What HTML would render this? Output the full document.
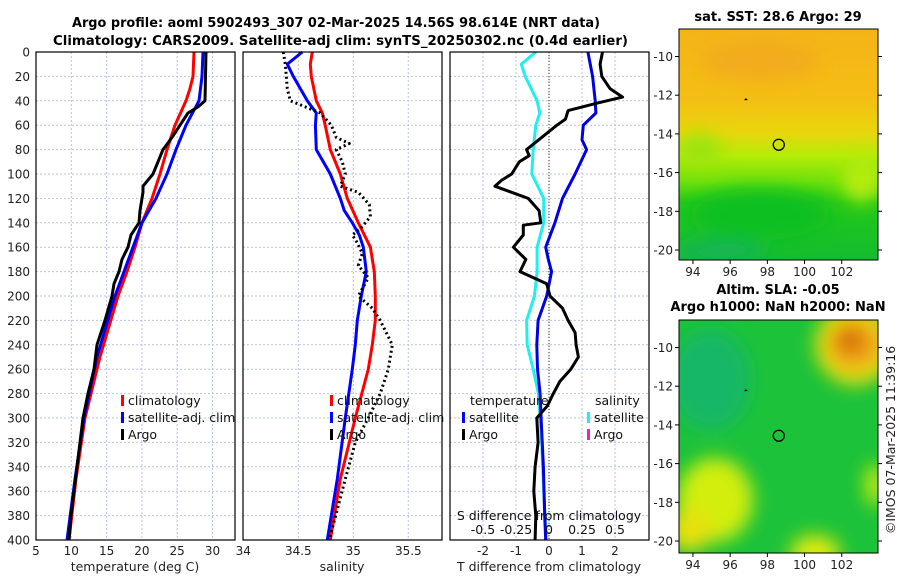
<!DOCTYPE html>
<html><head><meta charset="utf-8">
<style>
html,body{margin:0;padding:0;background:#fff;}
svg{display:block;font-family:"DejaVu Sans","Liberation Sans",sans-serif;}
.tk{font-size:12px;fill:#222;}
.ttl{font-size:13px;font-weight:bold;fill:#000;}
.lg{font-size:12.5px;fill:#111;}
</style></head><body>
<svg id="fig" width="900" height="580" viewBox="0 0 900 580" xmlns="http://www.w3.org/2000/svg">
<defs>
<filter id="blur6" x="-50%" y="-50%" width="200%" height="200%"><feGaussianBlur stdDeviation="9"/></filter>
<clipPath id="clipSST"><rect x="679" y="29" width="199" height="231"/></clipPath>
<clipPath id="clipSLA"><rect x="679" y="320" width="199" height="233"/></clipPath>
<linearGradient id="sstGrad" x1="0" y1="0" x2="0" y2="1">
<stop offset="0" stop-color="#f4b418"/><stop offset="0.3" stop-color="#f4be14"/>
<stop offset="0.45" stop-color="#e8d60c"/><stop offset="0.55" stop-color="#b4ec08"/>
<stop offset="0.66" stop-color="#6ee00c"/><stop offset="0.75" stop-color="#22c818"/>
<stop offset="1" stop-color="#14bc30"/></linearGradient>
</defs>
<text class="ttl" x="72" y="27" textLength="528" lengthAdjust="spacingAndGlyphs">Argo profile: aoml 5902493_307 02-Mar-2025 14.56S 98.614E (NRT data)</text>
<text class="ttl" x="53" y="45" textLength="575" lengthAdjust="spacingAndGlyphs">Climatology: CARS2009. Satellite-adj clim: synTS_20250302.nc (0.4d earlier)</text>
<g id="plots"></g>
<g id="maps"></g>
</svg>
<script>
// ---- depth axis ----
const depthTicks=[0,20,40,60,80,100,120,140,160,180,200,220,240,260,280,300,320,340,360,380,400];
// ---- temperature panel data (deg C) ----
const tClimDepth=[0,20,30,40,60,80,100,120,140,160,180,200,250,300,350,400];
const tClim=[27.38,27.24,26.81,26.25,24.69,23.56,22.56,21.43,20.01,19.02,17.89,16.61,14.07,11.94,10.67,9.67];
const tSatDepth=[0,20,40,60,80,100,120,140,160,180,200,250,300,350,400];
const tSat=[28.65,28.51,28.09,26.25,24.83,23.56,22.0,20.01,18.74,17.46,16.19,13.64,11.8,10.52,9.39];
const tArgoDepth=[0,40,45,50,60,70,80,90,100,110,115,130,140,150,160,170,180,190,200,220,240,260,280,300,320,340,360,380,400];
const tArgo=[29.08,28.94,27.95,26.53,25.4,24.26,22.99,22.28,21.57,20.16,20.16,19.73,19.59,18.46,18.03,17.18,16.76,16.05,15.76,14.77,13.64,13.22,12.37,11.66,11.23,10.81,10.38,9.96,9.67];
const tTicks=[5,10,15,20,25,30];
// ---- salinity panel data ----
const sClimDepth=[0,10,20,40,50,60,80,100,120,140,160,180,200,220,240,260,300,350,400];
const sClim=[34.627,34.609,34.618,34.664,34.718,34.745,34.791,34.882,34.945,35.045,35.155,35.191,35.2,35.2,35.173,35.136,35.018,34.882,34.791];
const sSatDepth=[0,10,20,40,50,60,80,100,120,130,140,150,160,180,200,220,240,260,300,350,400];
const sSat=[34.536,34.4,34.455,34.582,34.664,34.655,34.664,34.791,34.882,34.918,34.991,35.055,35.091,35.118,35.073,35.036,35.018,34.991,34.927,34.855,34.764];
const sArgoDepth=[0,10,30,40,45,50,60,70,75,80,90,100,110,115,125,135,145,150,155,165,175,185,200,210,220,240,260,280,300,320,350,400];
const sArgo=[34.364,34.382,34.4,34.427,34.564,34.7,34.8,34.845,34.964,34.845,34.9,34.927,34.882,35.045,35.145,35.155,35.064,34.991,35.027,35.082,35.045,35.136,35.045,35.173,35.245,35.355,35.318,35.245,35.136,35.018,34.927,34.782];
const sTicks=[34,34.5,35,35.5];
// ---- difference panel data ----
const dTSatDepth=[0,20,40,50,60,72,80,100,120,140,160,170,180,200,220,240,260,280,300,340,380,400];
const dTSat=[1.18,1.32,1.4,1.42,1.04,1.0,1.14,0.79,0.41,0.18,-0.1,-0.02,0.08,-0.07,-0.33,-0.37,-0.35,-0.27,-0.24,-0.17,-0.13,-0.1];
const dSSatDepth=[0,10,20,40,50,60,80,100,120,140,160,180,200,220,240,260,280,320,360,400];
const dSSat=[-0.1,-0.21,-0.18,-0.09,-0.07,-0.1,-0.12,-0.13,-0.04,-0.04,-0.09,-0.09,-0.11,-0.17,-0.165,-0.12,-0.08,-0.055,-0.04,-0.02];
const dTArgoDepth=[0,10,20,30,37,42,48,55,60,70,80,85,90,100,105,110,120,130,140,142,150,160,170,180,190,200,210,220,230,240,250,260,270,280,290,300,320,340,360,380,400];
const dTArgo=[1.62,1.55,1.6,1.85,2.23,1.45,0.58,0.5,0.24,-0.22,-0.68,-0.6,-0.9,-1.13,-1.43,-1.64,-0.63,-0.3,-0.25,-0.78,-0.78,-1.08,-0.7,-0.88,-0.07,0.03,0.41,0.58,0.79,0.82,0.89,0.66,0.33,0.13,-0.05,-0.37,-0.33,-0.42,-0.46,-0.4,-0.42];
const dTTicks=[-2,-1,0,1,2];
const dSTicks=[-0.5,-0.25,0,0.25,0.5];

const NS='http://www.w3.org/2000/svg';
const plots=document.getElementById('plots');
function mk(tag,attrs,parent){const e=document.createElementNS(NS,tag);for(const k in attrs)e.setAttribute(k,attrs[k]);(parent||plots).appendChild(e);return e;}
const Y0=52,Y1=540;
const yScale=d=>Y0+(d/400)*(Y1-Y0);
const tX=v=>36+(v-5)*7.06;
const sX=v=>243.3+(v-34)*110;
const dX=v=>549+v*33;
const dSX=v=>549+v*132;

const panels=[
 {name:'temperature-panel',x0:36,x1:235,ticks:tTicks,fx:tX,label:'temperature (deg C)',lx:135},
 {name:'salinity-panel',x0:243,x1:442,ticks:sTicks,fx:sX,label:'salinity',lx:342},
 {name:'difference-panel',x0:450,x1:649,ticks:dTTicks,fx:dX,label:'T difference from climatology',lx:549}
];
panels.forEach(p=>{
  const g=mk('g',{});
  
  
  depthTicks.forEach(d=>{const l=mk('line',{x1:p.x0,x2:p.x1,y1:yScale(d),y2:yScale(d),stroke:'#b9c3e3','stroke-width':1,'stroke-dasharray':'2,2'},g);
    });
  p.ticks.forEach(t=>{const x=p.fx(t);if(x>p.x0+1&&x<p.x1-1){const l=mk('line',{x1:x,x2:x,y1:Y0,y2:Y1,stroke:'#b9c3e3','stroke-width':1,'stroke-dasharray':'2,2'},g);
    }
    const tl=mk('text',{x:x,y:Y1+15,'text-anchor':'middle',class:'tk'},g);tl.textContent=String(t);
    });
  const ax=mk('text',{x:p.lx,y:571,'text-anchor':'middle',class:'tk',style:'font-size:12.5px'},g);ax.textContent=p.label;
  
});
depthTicks.forEach(d=>{const t=mk('text',{x:30,y:yScale(d)+4.5,'text-anchor':'end',class:'tk'});t.textContent=d;
  });
function line(depths,vals,fx,color,name,dash,w){
  const pts=depths.map((d,i)=>fx(vals[i]).toFixed(1)+','+yScale(d).toFixed(1)).join(' ');
  const a={points:pts,fill:'none',stroke:color,'stroke-width':w||3,'stroke-linejoin':'round'};
  if(dash)a['stroke-dasharray']=dash;
  const e=mk('polyline',a);
  
  
  return e;}
const z=mk('line',{x1:dX(0),x2:dX(0),y1:Y0,y2:Y1,stroke:'#333','stroke-width':1,'stroke-dasharray':'1,2'});


line(tClimDepth,tClim,tX,'#f00','temperature-climatology-line');
line(tSatDepth,tSat,tX,'#00f','temperature-satellite-line');
line(tArgoDepth,tArgo,tX,'#000','temperature-argo-line');
line(sClimDepth,sClim,sX,'#f00','salinity-climatology-line');
line(sSatDepth,sSat,sX,'#00f','salinity-satellite-line');
line(sArgoDepth,sArgo,sX,'#000','salinity-argo-line','2,3');
line(dSSatDepth,dSSat,dSX,'#22eeee','salinity-diff-satellite-line');
line(dTSatDepth,dTSat,dX,'#0000e0','temperature-diff-satellite-line');
line(dTArgoDepth,dTArgo,dX,'#000','temperature-diff-argo-line');
panels.forEach(p=>{const r=mk('rect',{x:p.x0,y:Y0,width:p.x1-p.x0,height:Y1-Y0,fill:'none',stroke:'#000','stroke-width':1.2});
  });
const st=mk('text',{x:549,y:520,'text-anchor':'middle',class:'lg'});st.textContent='S difference from climatology';

dSTicks.forEach(v=>{const t=mk('text',{x:dSX(v),y:534,'text-anchor':'middle',class:'lg'});t.textContent=String(v);
  });
function legend(x,y,color,text,name){
  const g=mk('g',{});
  
  
  mk('rect',{x:x,y:y-10,width:3,height:11,fill:color},g);
  const t=mk('text',{x:x+7,y:y,class:'lg'},g);t.textContent=text;}
legend(121,405,'#f00','climatology','legend-climatology');
legend(121,422,'#00f','satellite-adj. clim','legend-satellite');
legend(121,439,'#000','Argo','legend-argo');
legend(330,405,'#f00','climatology','legend-climatology-2');
legend(330,422,'#00f','satellite-adj. clim','legend-satellite-2');
legend(330,439,'#000','Argo','legend-argo-2');
const lt=mk('text',{x:470,y:405,class:'lg'});lt.textContent='temperature';
const ls=mk('text',{x:595,y:405,class:'lg'});ls.textContent='salinity';
legend(462,422,'#00f','satellite','legend-temp-satellite');
legend(462,439,'#000','Argo','legend-temp-argo');
legend(587,422,'#22eeee','satellite','legend-sal-satellite');
legend(587,439,'#ee22cc','Argo','legend-sal-argo');

// ---- maps ----
const maps=document.getElementById('maps');
const lonTicks=[94,96,98,100,102];
const latTicks=[-10,-12,-14,-16,-18,-20];
function mapFrame(top,name){
  const g=mk('g',{},maps);
  
  
  const lonX=v=>679+(v-93.25)*18.6;
  const latY=v=>top+27.5+(-10-v)*19.35;
  return {g,lonX,latY};
}
const m1=mapFrame(29,'sst-map');
const c1=mk('g',{'clip-path':'url(#clipSST)'},m1.g);
mk('rect',{x:679,y:29,width:199,height:231,fill:'url(#sstGrad)'},c1);
const b1=mk('g',{filter:'url(#blur6)'},c1);
mk('ellipse',{cx:700,cy:150,rx:22,ry:16,fill:'#9ae40c'},b1);
mk('ellipse',{cx:862,cy:180,rx:20,ry:22,fill:'#b6ec08'},b1);
mk('ellipse',{cx:760,cy:215,rx:70,ry:25,fill:'#10c020'},b1);
mk('ellipse',{cx:720,cy:252,rx:45,ry:12,fill:'#12b456'},b1);
mk('ellipse',{cx:760,cy:60,rx:60,ry:20,fill:'#f2ac1a'},b1);
const m2=mapFrame(320,'sla-map');
const c2=mk('g',{'clip-path':'url(#clipSLA)'},m2.g);
mk('rect',{x:679,y:320,width:199,height:233,fill:'#1cc23a'},c2);
const b2=mk('g',{filter:'url(#blur6)'},c2);
mk('ellipse',{cx:710,cy:380,rx:40,ry:50,fill:'#16b868'},b2);
mk('ellipse',{cx:855,cy:345,rx:40,ry:40,fill:'#e8e010'},b2);
mk('ellipse',{cx:855,cy:345,rx:28,ry:26,fill:'#f0a818'},b2);
mk('ellipse',{cx:850,cy:340,rx:15,ry:14,fill:'#d87010'},b2);
mk('ellipse',{cx:715,cy:500,rx:38,ry:42,fill:'#d2ee10'},b2);
mk('ellipse',{cx:690,cy:530,rx:22,ry:22,fill:'#e8e010'},b2);
mk('ellipse',{cx:815,cy:553,rx:25,ry:18,fill:'#e0ea10'},b2);
mk('ellipse',{cx:875,cy:485,rx:10,ry:22,fill:'#c6ec0e'},b2);
[[m1,29,260,'sat. SST: 28.6 Argo: 29',null],[m2,320,553,'Altim. SLA: -0.05','Argo h1000: NaN h2000: NaN']].forEach(([m,top,bot,t1,t2])=>{
  const r=mk('rect',{x:679,y:top,width:199,height:bot-top,fill:'none',stroke:'#000','stroke-width':1},m.g);
  
  lonTicks.forEach(v=>{const x=m.lonX(v);mk('line',{x1:x,x2:x,y1:bot,y2:bot+4,stroke:'#000'},m.g);
    const t=mk('text',{x:x,y:bot+16,'text-anchor':'middle',class:'tk'},m.g);t.textContent=v;
    });
  latTicks.forEach(v=>{const y=m.latY(v);mk('line',{x1:675,x2:679,y1:y,y2:y,stroke:'#000'},m.g);mk('line',{x1:878,x2:882,y1:y,y2:y,stroke:'#000'},m.g);
    const t=mk('text',{x:673,y:y+4.5,'text-anchor':'end',class:'tk'},m.g);t.textContent=v;
    });
  const c=mk('circle',{cx:m.lonX(98.614),cy:m.latY(-14.56),r:5.5,fill:'none',stroke:'#000','stroke-width':1.3},m.g);
  
  mk('path',{d:`M${m.lonX(96.85)} ${m.latY(-12.15)} l-2 2 h4z`,fill:'#000'},m.g);
  if(t2){const a=mk('text',{x:778,y:top-26,'text-anchor':'middle',class:'ttl'},m.g);a.textContent=t1;
    
    const b=mk('text',{x:778,y:top-9,'text-anchor':'middle',class:'ttl'},m.g);b.textContent=t2;
    }
  else{const a=mk('text',{x:778,y:top-8,'text-anchor':'middle',class:'ttl'},m.g);a.textContent=t1;
    }
});
const cp=mk('text',{x:0,y:0,class:'tk',transform:'translate(895,440) rotate(-90)','text-anchor':'middle',style:'font-size:12.5px'},maps);
cp.textContent='©IMOS 07-Mar-2025 11:39:16';


</script>
</body></html>
